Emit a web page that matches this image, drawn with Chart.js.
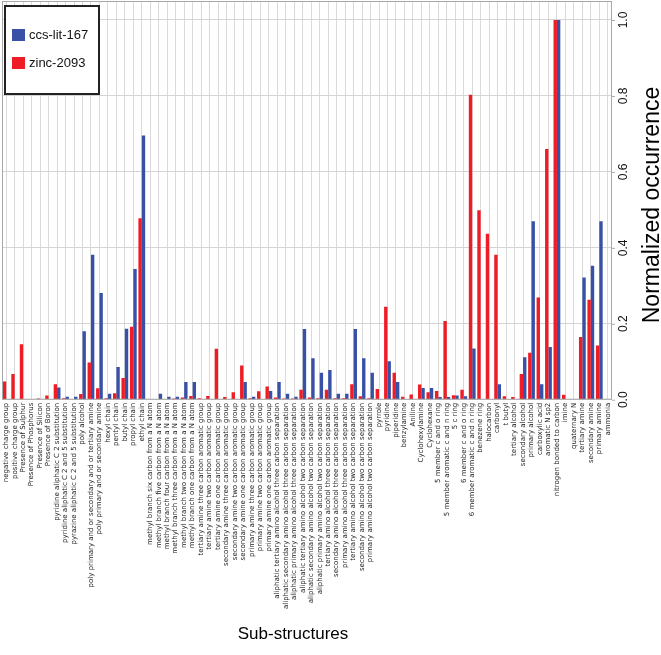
<!DOCTYPE html>
<html lang="en">
<head>
  <meta charset="UTF-8" />
  <title>Sub-structure occurrence</title>
  <script src="https://cdn.jsdelivr.net/npm/chart.js"></script>
  <style>
    html, body { margin: 0; padding: 0; background: #fff; }
    #wrap { width: 661px; height: 655px; position: relative; }
  </style>
</head>
<body>
  <div id="wrap"><canvas id="chart"></canvas></div>

  <script>
    // sub-structure categories, left to right
    const categories = [
      'negative charge group', 'positive charge group', 'Presence of Sulphur', 'Presence of Phosphorus',
      'Presence of Silicon', 'Presence of Boron', 'pyridine aliphatic C 2 substitution',
      'pyridine aliphatic C 2 and 5 substitution', 'pyrazine aliphatic C 2 and 5 substitution', 'poly alcohol',
      'poly primary and or secondary and or tertiary amine', 'poly primary and or secondary amine',
      'hexyl chain', 'pentyl chain', 'butyl chain', 'propyl chain', 'ethyl chain',
      'methyl branch six carbon from a N atom', 'methyl branch five carbon from a N atom',
      'methyl branch four carbon from a N atom', 'methyl branch three carbon from a N atom',
      'methyl branch two carbon from a N atom', 'methyl branch one carbon from a N atom',
      'tertiary amine three carbon aromatic group', 'tertiary amine two carbon aromatic group',
      'tertiary amine one carbon aromatic group', 'secondary amine three carbon aromatic group',
      'secondary amine two carbon aromatic group', 'secondary amine one carbon aromatic group',
      'primary amine three carbon aromatic group', 'primary amine two carbon aromatic group',
      'primary amine one carbon aromatic group',
      'aliphatic tertiary amino alcohol three carbon separation', 'aliphatic secondary amino alcohol three carbon separation',
      'aliphatic primary amino alcohol three carbon separation', 'aliphatic tertiary amino alcohol two carbon separation',
      'aliphatic secondary amino alcohol two carbon separation', 'aliphatic primary amino alcohol two carbon separation',
      'tertiary amino alcohol three carbon separation', 'secondary amino alcohol three carbon separation',
      'primary amino alcohol three carbon separation', 'tertiary amino alcohol two carbon separation',
      'secondary amino alcohol two carbon separation', 'primary amino alcohol two carbon separation',
      'pyrrole', 'pyridine', 'piperidine', 'benzylamine', 'Aniline', 'Cyclohexylamine', 'Cyclohexane',
      '5 member c and o ring', '5 member aromatic c and n ring', '5 c ring', '6 member c and o ring',
      '6 member aromatic c and n ring', 'benezene ring', 'halocarbon', 'carbonyl', 't butyl',
      'tertiary alcohol', 'secondary alcohol', 'primary alcohol', 'carboxylic acid', 'aromatic N sp2',
      'nitrogen bonded to carbon', 'imine', 'quaternary N', 'tertiary amine', 'secondary amine',
      'primary amine', 'ammonia'
    ];

    const zincValues = [
      0.048, 0.068, 0.146, 0, 0.003, 0.011, 0.041, 0.004, 0, 0.015,
      0.098, 0.030, 0.004, 0.017, 0.057, 0.192, 0.478,
      0, 0, 0, 0.003, 0.006, 0.010,
      0.004, 0.010, 0.134, 0.007, 0.020, 0.090, 0.004, 0.022, 0.035,
      0.006, 0.003, 0.003, 0.026, 0.006, 0.004,
      0.026, 0.004, 0.004, 0.041, 0.009, 0.004,
      0.028, 0.245, 0.071, 0.008, 0.014, 0.040, 0.020,
      0.023, 0.207, 0.012, 0.026, 0.803, 0.499, 0.437, 0.382, 0.009,
      0.007, 0.068, 0.124, 0.269, 0.660, 1.0, 0.013, 0, 0.165, 0.263,
      0.143, 0
    ];

    const ccsValues = [
      0, 0, 0, 0, 0, 0, 0.032, 0.008, 0.008, 0.180,
      0.382, 0.281, 0.016, 0.086, 0.187, 0.344, 0.696,
      0, 0.016, 0.008, 0.008, 0.047, 0.047,
      0, 0, 0, 0, 0, 0.047, 0.008, 0, 0.023,
      0.047, 0.016, 0.008, 0.186, 0.109, 0.071,
      0.078, 0.016, 0.016, 0.186, 0.109, 0.071,
      0, 0.101, 0.047, 0, 0, 0.031, 0.031,
      0.007, 0.007, 0.011, 0.009, 0.135, 0, 0, 0.041, 0,
      0, 0.112, 0.470, 0.041, 0.139, 1.0, 0, 0, 0.322, 0.353,
      0.470, 0
    ];

    const yTicks = [0, 0.2, 0.4, 0.6, 0.8, 1.0];

    const BLUE = '#3851a6';
    const RED = '#ee1d25';
    const SANS = '"Liberation Sans", Arial, sans-serif';

    // frame, right-hand tick labels, axis titles and the boxed legend
    const decor = {
      id: 'decor',
      afterDraw(chart) {
        const ctx = chart.ctx;
        const a = chart.chartArea;
        const y = chart.scales.y;
        ctx.save();

        ctx.strokeStyle = '#a8a8a8';
        ctx.lineWidth = 1;
        ctx.strokeRect(a.left + 0.5, a.top + 0.5, a.right - a.left - 1, a.bottom - a.top - 1);

        ctx.fillStyle = '#111';
        ctx.font = '12px ' + SANS;
        yTicks.forEach(v => {
          const py = y.getPixelForValue(v);
          ctx.beginPath();
          ctx.moveTo(a.right, py + 0.5);
          ctx.lineTo(a.right + 3, py + 0.5);
          ctx.stroke();
          ctx.save();
          ctx.translate(627, py);
          ctx.rotate(-Math.PI / 2);
          ctx.textAlign = 'center';
          ctx.textBaseline = 'alphabetic';
          ctx.fillText(v.toFixed(1), 0, 0);
          ctx.restore();
        });

        ctx.save();
        ctx.font = '23px ' + SANS;
        ctx.fillStyle = '#000';
        ctx.translate(659, 205);
        ctx.rotate(-Math.PI / 2);
        ctx.textAlign = 'center';
        ctx.textBaseline = 'alphabetic';
        ctx.fillText('Normalized occurrence', 0, 0);
        ctx.restore();

        ctx.font = '17px ' + SANS;
        ctx.fillStyle = '#000';
        ctx.textAlign = 'center';
        ctx.textBaseline = 'middle';
        ctx.fillText('Sub-structures', 293, 634);

        // legend
        ctx.fillStyle = '#fff';
        ctx.fillRect(5, 6, 94, 88);
        ctx.strokeStyle = '#222';
        ctx.lineWidth = 2;
        ctx.strokeRect(5, 6, 94, 88);
        const items = [['ccs-lit-167', BLUE, 35], ['zinc-2093', RED, 63]];
        ctx.font = '13px ' + SANS;
        ctx.textBaseline = 'middle';
        ctx.textAlign = 'left';
        items.forEach(([label, color, cy]) => {
          ctx.fillStyle = color;
          ctx.fillRect(12, cy - 6, 13, 12);
          ctx.fillStyle = '#111';
          ctx.fillText(label, 29, cy + 0.5);
        });
        ctx.restore();
      }
    };

    const chart = new Chart(document.getElementById('chart'), {
      type: 'bar',
      data: {
        labels: categories,
        datasets: [
          { label: 'zinc-2093', data: zincValues, backgroundColor: RED, borderWidth: 0 },
          { label: 'ccs-lit-167', data: ccsValues, backgroundColor: BLUE, borderWidth: 0 }
        ]
      },
      options: {
        responsive: true,
        maintainAspectRatio: false,
        animation: false,
        layout: { padding: { left: 2, top: 1, right: 49, bottom: 43 } },
        datasets: { bar: { categoryPercentage: 0.8, barPercentage: 1.0 } },
        plugins: {
          legend: { display: false },
          tooltip: { enabled: false }
        },
        scales: {
          x: {
            grid: { offset: false, color: '#dadada', drawTicks: false },
            border: { display: false },
            ticks: {
              autoSkip: false,
              maxRotation: 90,
              minRotation: 90,
              padding: 3,
              color: '#1a1a1a',
              font: { family: '"DejaVu Sans", sans-serif', size: 7 }
            },
            title: { display: false }
          },
          y: {
            position: 'right',
            min: 0,
            max: 1.05,
            afterBuildTicks: s => { s.ticks = yTicks.map(v => ({ value: v })); },
            grid: { color: '#d4d4d4', drawTicks: false },
            border: { display: false },
            ticks: { display: false }
          }
        }
      },
      plugins: [decor]
    });
  </script>
</body>
</html>
